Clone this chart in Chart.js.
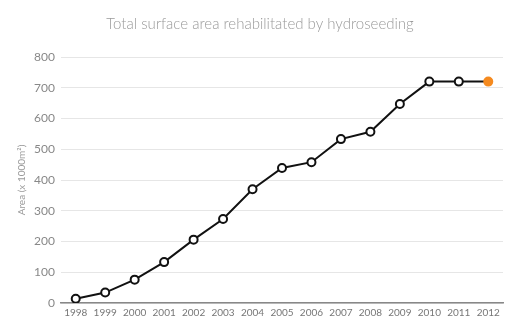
<!DOCTYPE html>
<html>
<head>
<meta charset="utf-8">
<script src="https://cdn.jsdelivr.net/npm/chart.js@4/dist/chart.umd.min.js"></script>
<style>
  html, body { margin: 0; padding: 0; background: #fff; }
  #wrap { width: 520px; height: 335px; }
</style>
</head>
<body>
<div id="wrap"><canvas id="chart" width="520" height="335"></canvas></div>
<script>
const years = ['1998', '1999', '2000', '2001', '2002', '2003', '2004', '2005',
               '2006', '2007', '2008', '2009', '2010', '2011', '2012'];
const area = [14, 34, 76, 133, 206, 273, 370, 439, 458, 533, 557, 647, 720, 720, 720];
const yTicks = [0, 100, 200, 300, 400, 500, 600, 700, 800];

const lastIdx = area.length - 1;
const fillColors = area.map((v, i) => i === lastIdx ? '#f58a1f' : '#ffffff');
const borderColors = area.map((v, i) => i === lastIdx ? '#f58a1f' : '#111111');

const ctx = document.getElementById('chart').getContext('2d');

const chart = new Chart(ctx, {
    type: 'line',
    data: {
        labels: years,
        datasets: [{
            data: area,
            borderColor: '#111111',
            borderWidth: 2,
            pointBackgroundColor: fillColors,
            pointBorderColor: borderColors,
            pointBorderWidth: 2,
            pointRadius: 4,
            tension: 0,
            fill: false
        }]
    },
    options: {
        responsive: false,
        animation: false,
        layout: { padding: { left: 17, right: 17, top: 0, bottom: 0 } },
        plugins: {
            legend: { display: false },
            tooltip: { enabled: false },
            title: {
                display: true,
                text: 'Total surface area rehabilitated by hydroseeding',
                color: '#9a9a9a',
                font: { family: 'Lato', size: 15, weight: '300' },
                padding: { top: 15, bottom: 24 }
            }
        },
        scales: {
            x: {
                offset: true,
                grid: { display: false, drawTicks: false },
                border: { display: true, color: '#888888', width: 1.5 },
                ticks: {
                    color: '#777777',
                    font: { family: 'Lato', size: 10 },
                    padding: 4,
                    maxRotation: 0,
                    autoSkip: false
                },
                afterFit: (scale) => { scale.height = 32; }
            },
            y: {
                min: 0,
                max: 800,
                afterBuildTicks: (scale) => {
                    scale.ticks = yTicks.map(v => ({ value: v }));
                },
                grid: { color: '#e6e6e6', lineWidth: 1, drawTicks: false },
                border: { display: false },
                ticks: {
                    color: '#888888',
                    font: { family: 'Lato', size: 12 },
                    padding: 6
                },
                title: {
                    display: true,
                    text: 'Area (x 1000m²)',
                    color: '#999999',
                    font: { family: 'Lato', size: 10, lineHeight: 1 },
                    padding: { top: 0, bottom: 0 }
                },
                afterFit: (scale) => { scale.width = 44; }
            }
        }
    }
});
</script>
</body>
</html>
